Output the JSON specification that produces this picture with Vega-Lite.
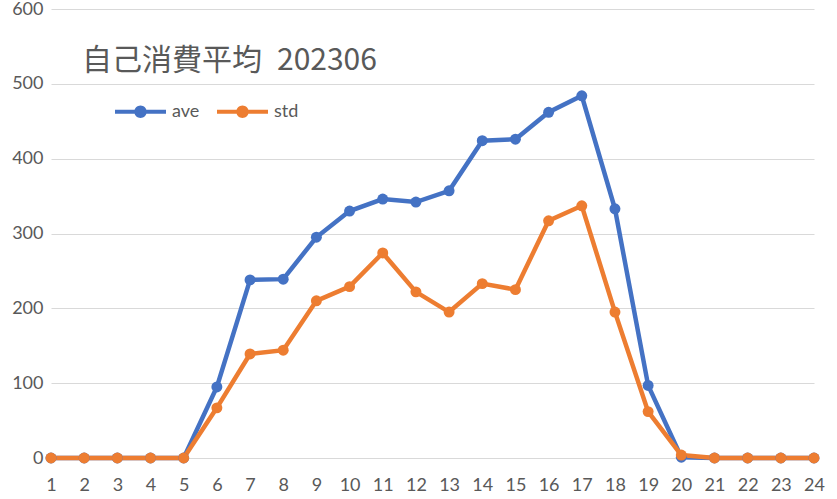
{
  "$schema": "https://vega.github.io/schema/vega-lite/v6.json",
  "width": 763,
  "height": 449,
  "autosize": {"type": "none"},
  "padding": {"left": 51, "top": 9, "right": 23, "bottom": 41},
  "background": "white",
  "title": {
    "text": "自己消費平均\u2002202306",
    "anchor": "start",
    "frame": "group",
    "orient": "top",
    "baseline": "alphabetic",
    "offset": 0,
    "dx": 31,
    "dy": 100,
    "font": "Noto Sans CJK JP",
    "fontSize": 30,
    "fontWeight": "normal",
    "color": "#595959"
  },
  "config": {
    "view": {"stroke": null},
    "font": "Lato",
    "axis": {"labelFont": "Lato", "labelFontSize": 18, "labelColor": "#595959", "domain": false, "ticks": false, "gridColor": "#D9D9D9", "gridWidth": 1.2, "title": null}
  },
  "data": {
    "values": [
      {"hour": 1, "series": "ave", "value": 0},
      {"hour": 2, "series": "ave", "value": 0},
      {"hour": 3, "series": "ave", "value": 0},
      {"hour": 4, "series": "ave", "value": 0},
      {"hour": 5, "series": "ave", "value": 0},
      {"hour": 6, "series": "ave", "value": 95},
      {"hour": 7, "series": "ave", "value": 238},
      {"hour": 8, "series": "ave", "value": 239},
      {"hour": 9, "series": "ave", "value": 295},
      {"hour": 10, "series": "ave", "value": 330},
      {"hour": 11, "series": "ave", "value": 346},
      {"hour": 12, "series": "ave", "value": 342},
      {"hour": 13, "series": "ave", "value": 357},
      {"hour": 14, "series": "ave", "value": 424},
      {"hour": 15, "series": "ave", "value": 426},
      {"hour": 16, "series": "ave", "value": 462},
      {"hour": 17, "series": "ave", "value": 484},
      {"hour": 18, "series": "ave", "value": 333},
      {"hour": 19, "series": "ave", "value": 97},
      {"hour": 20, "series": "ave", "value": 1},
      {"hour": 21, "series": "ave", "value": 0},
      {"hour": 22, "series": "ave", "value": 0},
      {"hour": 23, "series": "ave", "value": 0},
      {"hour": 24, "series": "ave", "value": 0},
      {"hour": 1, "series": "std", "value": 0},
      {"hour": 2, "series": "std", "value": 0},
      {"hour": 3, "series": "std", "value": 0},
      {"hour": 4, "series": "std", "value": 0},
      {"hour": 5, "series": "std", "value": 0},
      {"hour": 6, "series": "std", "value": 67},
      {"hour": 7, "series": "std", "value": 139},
      {"hour": 8, "series": "std", "value": 144},
      {"hour": 9, "series": "std", "value": 210},
      {"hour": 10, "series": "std", "value": 229},
      {"hour": 11, "series": "std", "value": 274},
      {"hour": 12, "series": "std", "value": 222},
      {"hour": 13, "series": "std", "value": 195},
      {"hour": 14, "series": "std", "value": 233},
      {"hour": 15, "series": "std", "value": 225},
      {"hour": 16, "series": "std", "value": 317},
      {"hour": 17, "series": "std", "value": 337},
      {"hour": 18, "series": "std", "value": 195},
      {"hour": 19, "series": "std", "value": 62},
      {"hour": 20, "series": "std", "value": 4},
      {"hour": 21, "series": "std", "value": 0},
      {"hour": 22, "series": "std", "value": 0},
      {"hour": 23, "series": "std", "value": 0},
      {"hour": 24, "series": "std", "value": 0}
    ]
  },
  "encoding": {
    "x": {
      "field": "hour",
      "type": "ordinal",
      "scale": {"type": "point", "padding": 0},
      "axis": {"labelAngle": 0, "labelPadding": 18, "grid": false}
    },
    "y": {
      "field": "value",
      "type": "quantitative",
      "scale": {"domain": [0, 600], "nice": false},
      "axis": {"values": [0, 100, 200, 300, 400, 500, 600], "labelPadding": 8, "grid": true}
    },
    "color": {
      "field": "series",
      "type": "nominal",
      "scale": {"domain": ["ave", "std"], "range": ["#4472C4", "#ED7D31"]},
      "legend": {
        "title": null,
        "orient": "none",
        "direction": "horizontal",
        "legendX": 64,
        "legendY": 77,
        "padding": 0,
        "symbolType": "M-1,-0.082 H1 V0.082 H-1 Z M-0.243,0 A0.243,0.243 0 1,1 0.243,0 A0.243,0.243 0 1,1 -0.243,0 Z",
        "symbolSize": 2601,
        "symbolStrokeWidth": 0,
        "symbolOpacity": 1,
        "labelOffset": 6,
        "labelFont": "Lato",
        "labelFontSize": 18,
        "labelColor": "#595959",
        "columnPadding": 17
      }
    }
  },
  "layer": [
    {"mark": {"type": "line", "strokeWidth": 4.5}},
    {"mark": {"type": "point", "shape": "circle", "filled": true, "size": 120, "opacity": 1}}
  ]
}
